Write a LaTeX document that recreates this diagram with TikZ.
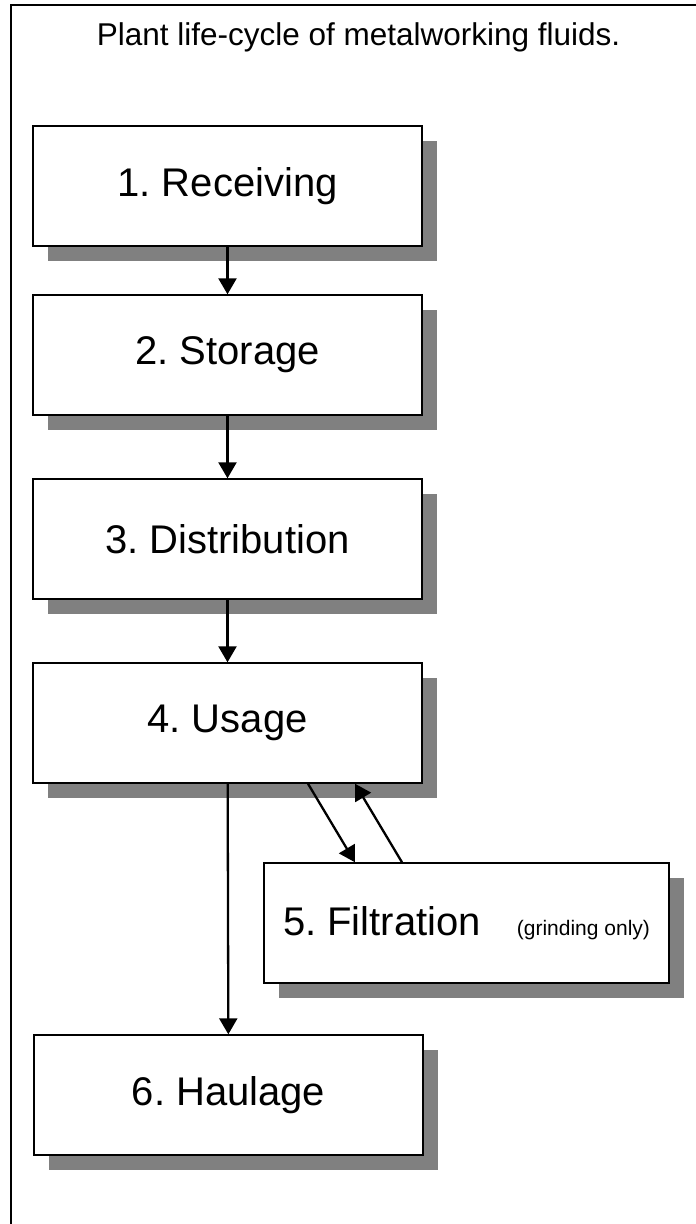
\documentclass[tikz,border=0pt]{standalone}
\usepackage{fontspec}
\setmainfont{Liberation Sans}
\usetikzlibrary{arrows.meta, shadows}
\frenchspacing

\begin{document}
\begin{tikzpicture}[x=1pt, y=-1pt,
    stage/.style={draw, line width=1.4pt, fill=white, minimum width=389pt, minimum height=120pt,
        inner sep=0pt, font=\fontsize{40}{48}\selectfont,
        drop shadow={shadow xshift=15pt, shadow yshift=-15pt, fill=black!50, opacity=1}},
    flow/.style={line width=2.3pt, -{Triangle[width=18pt, length=16pt]}}]
    \useasboundingbox (0,0) rectangle (696,1224);

    % Frame
    \draw[line width=2pt] (696,4.5) -- (11,4.5) -- (11,1224);
    \node[anchor=base, font=\fontsize{31.5}{38}\selectfont] (title) at (358.5,45) {Plant life-cycle of metalworking fluids.};

    % Stages
    \node[stage] (recv) at (227.5,186) {1. Receiving};
    \node[stage] (stor) at (227.5,355) {2. Storage};
    \node[stage] (dist) at (227.5,539) {3. Distribution};
    \node[stage] (usage) at (227.5,723) {4. Usage};
    \node[stage, minimum width=405pt] (filt) at (466.5,923) {5. Filtration\hspace{36pt}{\fontsize{21}{25}\selectfont (grinding only)}\hspace{8pt}};
    \node[stage] (haul) at (228.5,1095) {6. Haulage};

    % Flow
    \draw[flow] (recv) -- (stor);
    \draw[flow] (stor) -- (dist);
    \draw[flow] (dist) -- (usage);
    \draw[flow] (usage) -- (haul);
    \draw[flow] ([xshift=80.5pt]usage.south) -- ([xshift=-111.5pt]filt.north);
    \draw[flow] ([xshift=-64.5pt]filt.north) -- ([xshift=127.5pt]usage.south);
\end{tikzpicture}
\end{document}
